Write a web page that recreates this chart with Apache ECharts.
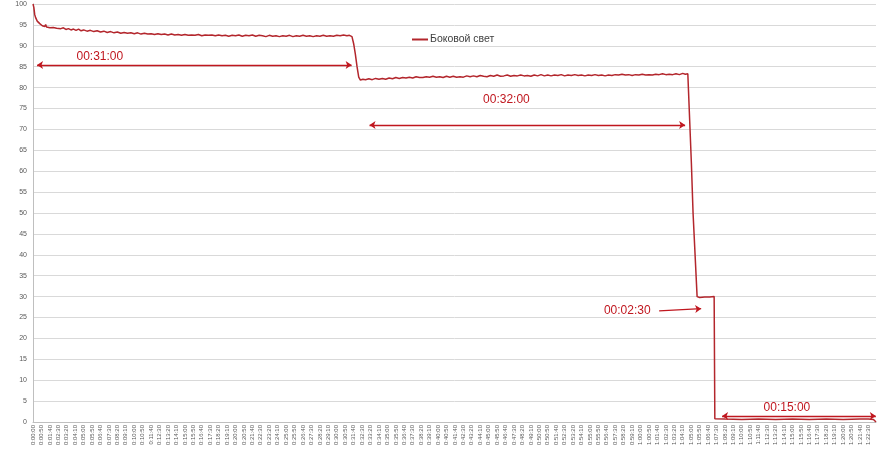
<!DOCTYPE html>
<html><head><meta charset="utf-8">
<script src="https://cdn.jsdelivr.net/npm/echarts@6/dist/echarts.min.js"></script>
<style>html,body{margin:0;padding:0;background:#fff}#c{width:877px;height:455px}</style>
</head><body><div id="c"></div>
<script>
const seriesName = 'Боковой свет';
// time in seconds
const times = [0,5,10,15,20,25,30,35,40,45,50,55,60,70,75,80,90,100,110,120,130,140,150,165,180,195,210,225,240,255,270,285,300,320,340,360,380,400,420,440,460,480,500,520,540,560,580,600,620,640,660,680,700,720,740,760,780,800,820,840,860,880,900,920,940,960,980,1000,1020,1040,1060,1080,1100,1120,1140,1160,1180,1200,1220,1240,1260,1280,1300,1320,1340,1360,1380,1400,1420,1440,1460,1480,1500,1520,1540,1560,1580,1600,1620,1640,1660,1680,1700,1720,1740,1760,1780,1800,1820,1840,1860,1875,
1890,1900,1910,1920,1930,1940,1955,1970,1990,2010,2030,2050,2070,2090,2110,2130,2150,2170,2190,2210,2230,2250,2270,2290,2310,2330,2350,2370,2390,2410,2430,2450,2470,2490,2510,2530,2550,2570,2590,2610,2630,2650,2670,2690,2710,2730,2750,2770,2790,2810,2830,2850,2870,2890,2910,2930,2950,2970,2990,3010,3030,3050,3070,3090,3110,3130,3150,3170,3190,3210,3230,3250,3270,3290,3310,3330,3350,3370,3390,3410,3430,3450,3470,3490,3510,3530,3550,3570,3590,3610,3630,3650,3670,3690,3710,3730,3750,3770,3790,3810,3830,3850,3865,3880,3888,
3891,3901,3911,3935,3950,3980,4010,4036,4040,4100,4200,4300,4400,4500,4600,4700,4800,4900,4950,4980,4995];
const values = [100,99.2,97.5,96.8,96.4,95.9,95.6,96.3,95.3,95.0,95.4,94.8,95.2,94.6,95.1,94.5,94.9,94.3,94.7,94.4,94.6,94.2,94.5,94.1,94.3,93.9,94.1,93.8,94.0,93.7,94.0,93.6,93.8,93.5,93.7,93.4,93.6,93.3,93.5,93.2,93.4,93.1,93.3,93.0,93.2,93.0,93.1,92.9,93.1,92.8,93.0,92.8,92.9,92.7,92.9,92.7,92.8,92.6,92.8,92.6,92.7,92.5,92.7,92.5,92.6,92.5,92.7,92.4,92.6,92.5,92.6,92.4,92.6,92.4,92.5,92.3,92.5,92.4,92.6,92.3,92.5,92.4,92.6,92.3,92.5,92.4,92.2,92.5,92.3,92.4,92.2,92.4,92.3,92.5,92.2,92.4,92.3,92.5,92.3,92.4,92.2,92.4,92.3,92.5,92.3,92.4,92.3,92.5,92.4,92.6,92.4,92.5,
92.2,90.5,88,85,82.5,81.8,82.0,81.9,82.1,81.9,82.2,82.0,82.2,82.0,82.3,82.1,82.4,82.2,82.4,82.3,82.5,82.3,82.6,82.4,82.4,82.6,82.5,82.7,82.5,82.6,82.4,82.7,82.5,82.7,82.5,82.6,82.5,82.8,82.6,82.8,82.6,82.9,82.7,82.6,82.9,82.7,83.0,82.7,82.8,83.0,82.7,82.9,82.8,83.0,82.8,82.9,82.7,83.0,82.8,83.1,82.8,83.0,82.8,83.0,82.9,83.1,82.8,83.0,82.9,83.1,82.9,83.0,82.8,83.0,82.9,83.1,82.9,83.0,82.8,83.0,82.9,83.1,83.0,83.2,83.0,83.1,82.9,83.1,83.0,83.2,83.0,83.1,83.0,83.2,83.1,83.3,83.1,83.2,83.1,83.3,83.1,83.4,83.2,83.3,83.2,
83.0,62,50,30,29.8,29.9,29.9,30.0,0.8,0.7,0.6,0.7,0.6,0.7,0.6,0.7,0.6,0.7,0.7,0.6,0];

const yTicks = [0,5,10,15,20,25,30,35,40,45,50,55,60,65,70,75,80,85,90,95,100];
// annotations
const annLabels = ['00:31:00','00:32:00','00:02:30','00:15:00'];
const annLines = [[24,85.4,1888,85.4],[1994,71.05,3864,71.05],[3710,26.6,3959,27.1],[4083,1.44,4994,1.44]];
const annText = [[396,87.3],[2805,77.0],[3521,26.55],[4467,3.35]];
const annBoth = [true,true,false,true];

const red = '#b3262c';
const textRed = '#c0171f';
const data = times.map((t,i)=>[t,values[i]]);

function fmt(s){
  const h=Math.floor(s/3600), m=Math.floor((s%3600)/60), ss=s%60;
  return h+':'+String(m).padStart(2,'0')+':'+String(ss).padStart(2,'0');
}

const chart = echarts.init(document.getElementById('c'));
chart.setOption({
  animation:false,
  textStyle:{fontFamily:'Liberation Sans, Arial, sans-serif'},
  grid:{left:33,right:1,top:4,bottom:33,containLabel:false},
  legend:{left:412,top:34,padding:0,itemWidth:16,itemHeight:10,itemGap:2,
    textStyle:{fontSize:10.5,color:'#404040',padding:[0,0,0,-3],fontFamily:'Liberation Sans, Arial, sans-serif'},
    data:[{name:seriesName,icon:'path://M0,4 L16,4 L16,6 L0,6 Z'}]},
  xAxis:{type:'value',min:0,max:4995,interval:50,
    axisLine:{lineStyle:{color:'#bfbfbf'}},axisTick:{show:false},splitLine:{show:false},
    axisLabel:{rotate:90,fontSize:6,color:'#595959',margin:3,showMaxLabel:false,formatter:v=>fmt(v)}},
  yAxis:{type:'value',min:0,max:100,interval:5,
    axisLine:{show:true,lineStyle:{color:'#bfbfbf'}},axisTick:{show:false},
    splitLine:{lineStyle:{color:'#d9d9d9',width:1}},
    axisLabel:{fontSize:7,color:'#595959',margin:6}},
  series:[{
    name:seriesName,type:'line',data:data,symbol:'none',
    lineStyle:{color:red,width:1.5},itemStyle:{color:red},
    markLine:{silent:true,animation:false,
      lineStyle:{color:textRed,width:1.3,type:'solid'},label:{show:false},
      symbolSize:[6,6],
      data:annLines.map((l,i)=>[
        {coord:[l[0],l[1]],symbol:annBoth[i]?'arrow':'none'},
        {coord:[l[2],l[3]],symbol:'arrow'}])},
    markPoint:{silent:true,animation:false,symbol:'circle',symbolSize:0,
      label:{show:true,color:textRed,fontSize:12,position:'inside',fontFamily:'Liberation Sans, Arial, sans-serif'},
      data:annText.map((p,i)=>({coord:p,value:annLabels[i],label:{formatter:annLabels[i]}}))}
  }]
});
</script></body></html>
